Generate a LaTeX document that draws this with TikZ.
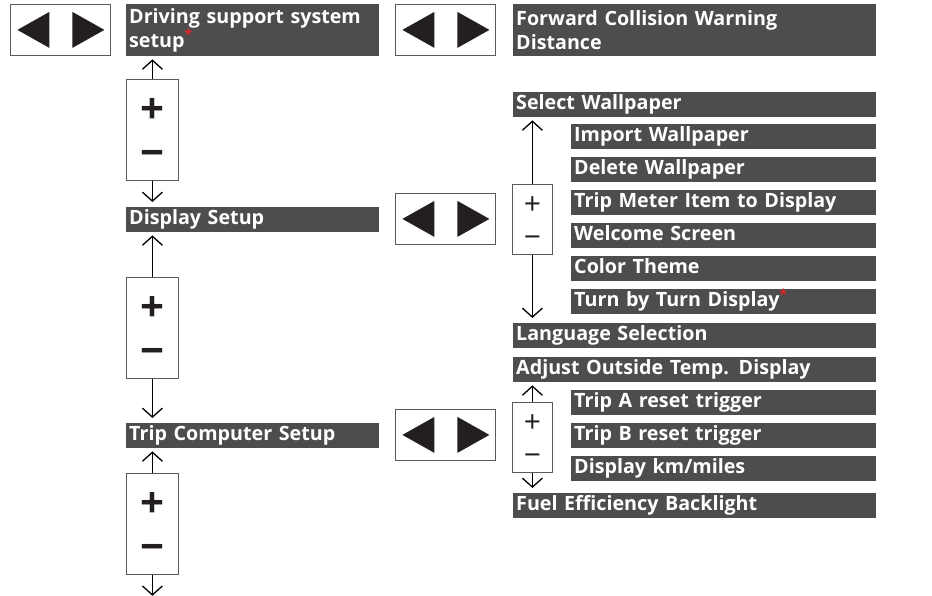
\documentclass[tikz,border=0pt]{standalone}
\usepackage{fontspec}
\setmainfont{Open Sans}
\usetikzlibrary{arrows.meta, positioning}

\definecolor{barfill}{HTML}{4D4D4D}
\definecolor{boxline}{HTML}{5A5A5A}
\definecolor{triblack}{HTML}{231F20}
\definecolor{starred}{HTML}{E0242B}

\newcommand{\redstar}{\textsuperscript{\textcolor{starred}{*}}}

\tikzset{
  menubar/.style={fill=barfill, text=white, anchor=north west, inner xsep=3pt, inner ysep=0pt,
    font=\bfseries\fontsize{19.7}{24}\selectfont, align=left},
  oneline/.style={menubar, minimum height=25pt, text height=14.5pt, text depth=4pt},
  twoline/.style={menubar, minimum height=52pt},
  lrbox/.style={draw=boxline, line width=0.8pt, anchor=north west, minimum width=100pt, minimum height=51pt},
  pmbig/.style={draw=boxline, line width=0.8pt, anchor=north west, minimum width=52pt, minimum height=101pt},
  pmsmall/.style={draw=boxline, line width=0.8pt, anchor=north west, minimum width=40pt, minimum height=70pt},
  bigsign/.style={inner sep=0pt, text=triblack, font=\bfseries\fontsize{42}{42}\selectfont},
  smallsign/.style={inner sep=0pt, text=triblack, font=\fontsize{30}{30}\selectfont},
  selarrow/.style={-{Straight Barb[length=9pt,width=20pt]}, line width=1.3pt}
}

\begin{document}
\begin{tikzpicture}[x=1pt, y=-1pt]

  \useasboundingbox (0,0) rectangle (932,596);

  % Left/right selector boxes
  \node[lrbox] (lr1) at (10,4) {};
  \node[lrbox] (lr2) at (395,4) {};
  \node[lrbox] (lr3) at (395,193) {};
  \node[lrbox] (lr4) at (395,409) {};
  \foreach \b in {lr1,lr2,lr3,lr4} {
    \fill[triblack] ([xshift=-43pt]\b.center) -- ([xshift=-11pt,yshift=18pt]\b.center)
      -- ([xshift=-11pt,yshift=-18pt]\b.center) -- cycle;
    \fill[triblack] ([xshift=44pt]\b.center) -- ([xshift=12pt,yshift=18pt]\b.center)
      -- ([xshift=12pt,yshift=-18pt]\b.center) -- cycle;
  }

  % Left column
  \node[twoline, text width=247pt] (dss) at (126,4) {Driving support system\\setup\redstar};
  \node[oneline, text width=247pt] (dsp) at (126,207) {Display Setup};
  \node[oneline, text width=247pt] (tcs) at (126,423) {Trip Computer Setup};

  % Right column, main items
  \node[twoline, text width=357pt] (fcw) at (513,4) {Forward Collision Warning\\Distance};
  \node[oneline, text width=357pt] (sw)   at (513,92)  {Select Wallpaper};
  \node[oneline, text width=357pt] (lang) at (513,323) {Language Selection};
  \node[oneline, text width=357pt] (aotd) at (513,357) {Adjust Outside Temp. Display};
  \node[oneline, text width=357pt] (fuel) at (513,493) {Fuel Efficiency Backlight};

  % Right column, sub items
  \node[oneline, text width=299pt] (imp) at (571,124) {Import Wallpaper};
  \node[oneline, text width=299pt] (del) at (571,157) {Delete Wallpaper};
  \node[oneline, text width=299pt] (tmi) at (571,190) {Trip Meter Item to Display};
  \node[oneline, text width=299pt] (wel) at (571,223) {Welcome Screen};
  \node[oneline, text width=299pt] (col) at (571,256) {Color Theme};
  \node[oneline, text width=299pt] (tbt) at (571,289) {Turn by Turn Display\redstar};
  \node[oneline, text width=299pt] (tra) at (571,390) {Trip A reset trigger};
  \node[oneline, text width=299pt] (trb) at (571,423) {Trip B reset trigger};
  \node[oneline, text width=299pt] (km)  at (571,456) {Display km/miles};

  % Plus/minus boxes
  \node[pmbig] (pm1) at (126,79) {};
  \node[pmbig] (pm2) at (126,277) {};
  \node[pmbig] (pm3) at (126,473) {};
  \node[pmsmall] (pm4) at (512,184) {};
  \node[pmsmall] (pm5) at (512,402) {};
  \foreach \b in {pm1,pm2,pm3} {
    \node[bigsign] (\b p) at ([yshift=-32pt]\b.north) {+};
    \node[bigsign] (\b m) at ([yshift=-80pt]\b.north) {−};
  }
  \foreach \b in {pm4,pm5} {
    \node[smallsign] (\b p) at ([yshift=-22pt]\b.north) {+};
    \node[smallsign] (\b m) at ([yshift=-58pt]\b.north) {−};
  }

  % Selection arrows
  \coordinate (end3) at ([yshift=-21pt]pm3.south);
  \draw[selarrow, shorten >=3pt] (pm1.north) -- (pm1.north |- dss.south);
  \draw[selarrow, shorten >=5pt] (pm1.south) -- (pm1.south |- dsp.north);
  \draw[selarrow, shorten >=3pt] (pm2.north) -- (pm2.north |- dsp.south);
  \draw[selarrow, shorten >=5pt] (pm2.south) -- (pm2.south |- tcs.north);
  \draw[selarrow, shorten >=3pt] (pm3.north) -- (pm3.north |- tcs.south);
  \draw[selarrow] (pm3.south) -- (end3);
  \draw[selarrow, shorten >=3pt] (pm4.north) -- (pm4.north |- sw.south);
  \draw[selarrow, shorten >=5pt] (pm4.south) -- (pm4.south |- lang.north);
  \draw[selarrow, shorten >=3pt] (pm5.north) -- (pm5.north |- aotd.south);
  \draw[selarrow, shorten >=5pt] (pm5.south) -- (pm5.south |- fuel.north);

\end{tikzpicture}
\end{document}
